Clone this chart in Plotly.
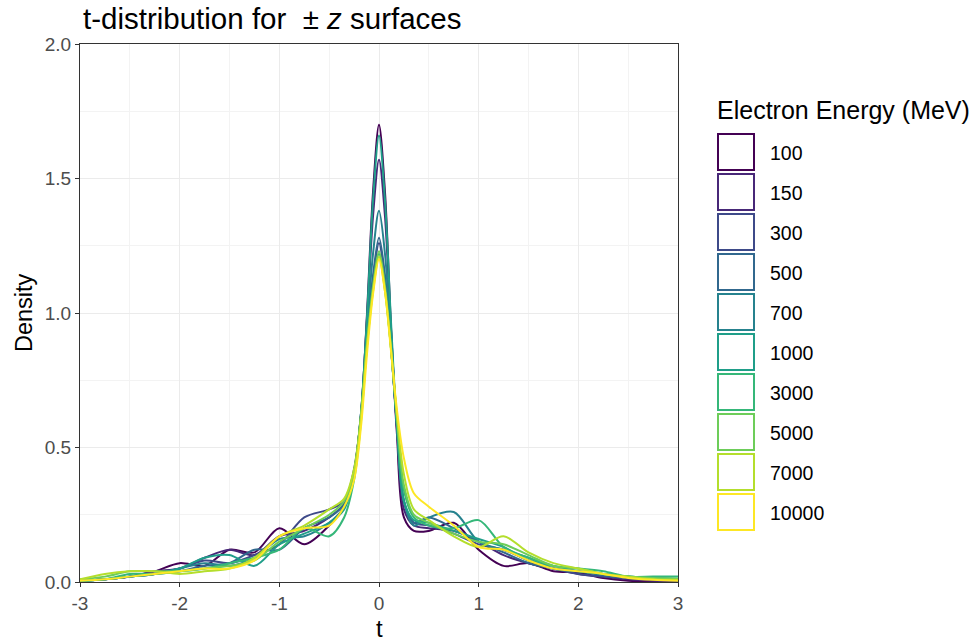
import plotly.graph_objects as go

# ---- data -------------------------------------------------------------
energies = ["100", "150", "300", "500", "700", "1000", "3000", "5000", "7000", "10000"]
colors = ["#440154", "#482878", "#3E4A89", "#31688E", "#26828E",
          "#1F9E89", "#35B779", "#6DCD59", "#B4DE2C", "#FDE725"]

t_grid = [-3.0, -2.75, -2.5, -2.25, -2.0, -1.75, -1.5, -1.25, -1.0, -0.75, -0.5,
          -0.35, -0.25, -0.18, -0.12, -0.06, 0.0, 0.06, 0.12, 0.18, 0.25,
          0.35, 0.5, 0.75, 1.0, 1.25, 1.5, 1.75, 2.0, 2.25, 2.5, 2.75, 3.0]

dens_100 = [0.005, 0.01, 0.02, 0.04, 0.07, 0.06, 0.12, 0.11, 0.20, 0.14, 0.21,
            0.28, 0.40, 0.62, 1.00, 1.45, 1.70, 1.45, 0.95, 0.55, 0.24,
            0.19, 0.19, 0.22, 0.12, 0.06, 0.07, 0.04, 0.035, 0.015, 0.005, 0.003, 0.002]
dens_150 = [0.005, 0.01, 0.02, 0.04, 0.05, 0.09, 0.12, 0.10, 0.17, 0.19, 0.24,
            0.29, 0.41, 0.63, 0.98, 1.36, 1.57, 1.36, 0.94, 0.57, 0.27,
            0.21, 0.20, 0.19, 0.15, 0.10, 0.07, 0.05, 0.03, 0.02, 0.01, 0.005, 0.003]
dens_300 = [0.005, 0.01, 0.02, 0.03, 0.05, 0.08, 0.07, 0.10, 0.14, 0.24, 0.27,
            0.30, 0.42, 0.62, 0.90, 1.12, 1.26, 1.12, 0.88, 0.58, 0.30,
            0.22, 0.21, 0.18, 0.14, 0.12, 0.08, 0.05, 0.03, 0.02, 0.015, 0.01, 0.005]
dens_500 = [0.005, 0.01, 0.02, 0.03, 0.04, 0.06, 0.07, 0.12, 0.12, 0.20, 0.24,
            0.29, 0.41, 0.62, 0.91, 1.14, 1.28, 1.14, 0.88, 0.58, 0.30,
            0.22, 0.24, 0.20, 0.15, 0.11, 0.07, 0.05, 0.04, 0.025, 0.015, 0.01, 0.01]
dens_700 = [0.005, 0.01, 0.02, 0.03, 0.05, 0.07, 0.06, 0.09, 0.16, 0.17, 0.22,
            0.28, 0.41, 0.63, 0.94, 1.22, 1.38, 1.22, 0.90, 0.58, 0.30,
            0.21, 0.24, 0.26, 0.15, 0.12, 0.09, 0.05, 0.04, 0.03, 0.02, 0.015, 0.01]
dens_1000 = [0.003, 0.01, 0.02, 0.03, 0.05, 0.09, 0.10, 0.06, 0.14, 0.18, 0.22,
             0.27, 0.40, 0.63, 0.99, 1.42, 1.66, 1.42, 0.97, 0.58, 0.30,
             0.23, 0.22, 0.19, 0.16, 0.13, 0.08, 0.06, 0.04, 0.03, 0.02, 0.015, 0.012]
dens_3000 = [0.005, 0.01, 0.03, 0.03, 0.04, 0.05, 0.07, 0.09, 0.12, 0.20, 0.17,
             0.24, 0.38, 0.60, 0.88, 1.09, 1.22, 1.09, 0.87, 0.60, 0.34,
             0.24, 0.21, 0.20, 0.23, 0.13, 0.09, 0.06, 0.05, 0.04, 0.02, 0.02, 0.02]
dens_5000 = [0.01, 0.02, 0.04, 0.04, 0.04, 0.05, 0.06, 0.08, 0.15, 0.20, 0.25,
             0.30, 0.41, 0.62, 0.89, 1.10, 1.23, 1.10, 0.87, 0.61, 0.36,
             0.25, 0.22, 0.18, 0.15, 0.14, 0.10, 0.06, 0.05, 0.03, 0.02, 0.015, 0.012]
dens_7000 = [0.01, 0.03, 0.04, 0.04, 0.03, 0.04, 0.05, 0.09, 0.17, 0.21, 0.27,
             0.31, 0.42, 0.62, 0.88, 1.08, 1.21, 1.08, 0.87, 0.62, 0.40,
             0.27, 0.23, 0.17, 0.13, 0.17, 0.11, 0.07, 0.05, 0.03, 0.02, 0.01, 0.008]
dens_10000 = [0.005, 0.01, 0.02, 0.03, 0.04, 0.05, 0.05, 0.08, 0.17, 0.20, 0.21,
              0.28, 0.38, 0.58, 0.85, 1.07, 1.20, 1.08, 0.86, 0.64, 0.46,
              0.33, 0.28, 0.21, 0.13, 0.12, 0.08, 0.05, 0.04, 0.03, 0.015, 0.008, 0.005]

densities = [dens_100, dens_150, dens_300, dens_500, dens_700,
             dens_1000, dens_3000, dens_5000, dens_7000, dens_10000]

x_ticks = [-3, -2, -1, 0, 1, 2, 3]
y_ticks = [0.0, 0.5, 1.0, 1.5, 2.0]
y_tick_labels = ["0.0", "0.5", "1.0", "1.5", "2.0"]

# ---- figure -----------------------------------------------------------
FONT = "Liberation Sans, Arial, Helvetica, sans-serif"
fig = go.Figure()
for name, col, d in zip(energies, colors, densities):
    fig.add_trace(go.Scatter(
        x=t_grid, y=d, mode="lines", name=name,
        line=dict(color=col, width=2.0, shape="spline", smoothing=0.9),
        showlegend=False))

W, H = 977, 643
ml, mt = 80, 44
mr = W - 678
mb = H - 582
pw, ph = W - ml - mr, H - mt - mb


def px2paper_x(sx):
    return (sx - ml) / pw


def px2paper_y(sy):
    return (H - mb - sy) / ph


shapes = []
annotations = []
annotations.append(dict(
    text="Electron Energy (MeV)", xref="paper", yref="paper",
    x=px2paper_x(715), y=px2paper_y(110), xanchor="left", yanchor="middle",
    showarrow=False, font=dict(family=FONT, size=25, color="black")))
for i, (name, col) in enumerate(zip(energies, colors)):
    top = 134 + 40 * i
    shapes.append(dict(
        type="rect", xref="paper", yref="paper",
        x0=px2paper_x(718), x1=px2paper_x(754),
        y0=px2paper_y(top + 36), y1=px2paper_y(top),
        line=dict(color=col, width=2), fillcolor="white"))
    annotations.append(dict(
        text=name, xref="paper", yref="paper",
        x=px2paper_x(768), y=px2paper_y(top + 19), xanchor="left", yanchor="middle",
        showarrow=False, font=dict(family=FONT, size=19.5, color="black")))

# axis titles and plot title placed like ggplot
annotations.append(dict(
    text="t", xref="paper", yref="paper",
    x=px2paper_x(379), y=px2paper_y(629), xanchor="center", yanchor="middle",
    showarrow=False, font=dict(family=FONT, size=24, color="black")))
annotations.append(dict(
    text="Density", xref="paper", yref="paper", textangle=-90,
    x=px2paper_x(24), y=px2paper_y(313), xanchor="center", yanchor="middle",
    showarrow=False, font=dict(family=FONT, size=23.5, color="black")))
annotations.append(dict(
    text="t-distribution for \u00a0\u00b1 <i>z</i> surfaces", xref="paper", yref="paper",
    x=px2paper_x(81), y=px2paper_y(0), xanchor="left", yanchor="top",
    showarrow=False, font=dict(family=FONT, size=29.5, color="black")))

fig.update_layout(
    width=W, height=H,
    margin=dict(l=ml, r=mr, t=mt, b=mb),
    paper_bgcolor="white", plot_bgcolor="white",
    font=dict(family=FONT, color="black"),
    shapes=shapes, annotations=annotations,
    showlegend=False,
)
fig.update_xaxes(
    range=[-3, 3], tickvals=x_ticks, ticktext=[str(v) for v in x_ticks],
    showgrid=True, gridcolor="#EBEBEB", gridwidth=1.1,
    minor=dict(showgrid=True, gridcolor="#F3F3F3", gridwidth=0.6, dtick=0.5),
    zeroline=False, showline=True, linecolor="#333333", linewidth=1, mirror=True,
    ticks="outside", ticklen=4, tickcolor="#333333", tickwidth=1,
    tickfont=dict(family=FONT, size=19, color="#4D4D4D"),
)
fig.update_yaxes(
    range=[0, 2.0], tickvals=y_ticks, ticktext=y_tick_labels,
    showgrid=True, gridcolor="#EBEBEB", gridwidth=1.1,
    minor=dict(showgrid=True, gridcolor="#F3F3F3", gridwidth=0.6, dtick=0.25),
    zeroline=False, showline=True, linecolor="#333333", linewidth=1, mirror=True,
    ticks="outside", ticklen=4, tickcolor="#333333", tickwidth=1,
    tickfont=dict(family=FONT, size=19, color="#4D4D4D"),
)

# remove the browser's default 8px body margin so the figure fills the window
fig.write_html("out.html",
               config={"displayModeBar": False},
               post_script="document.body.style.margin='0';document.body.style.padding='0';")
